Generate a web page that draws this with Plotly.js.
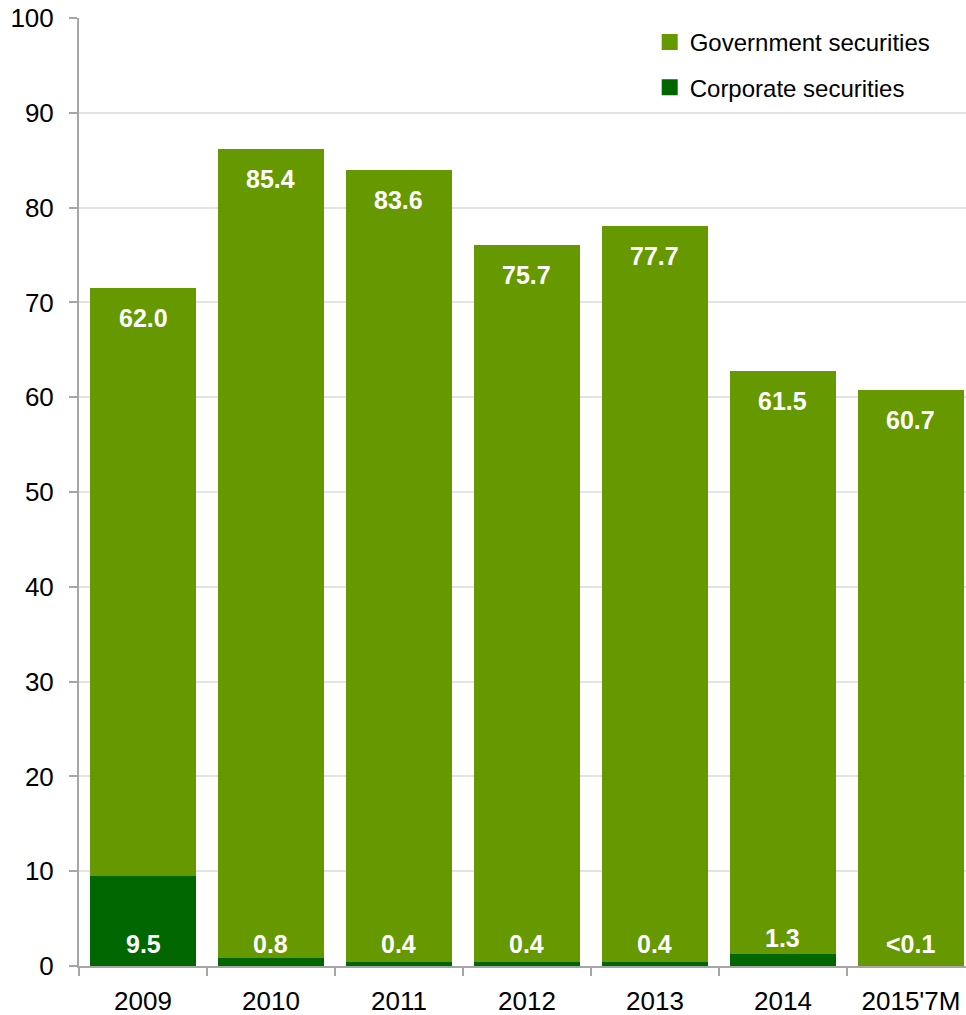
<!DOCTYPE html>
<html>
<head>
<meta charset="utf-8">
<script src="https://cdn.plot.ly/plotly-3.0.1.min.js"></script>
<style>html,body{margin:0;padding:0;background:#fff;}#chart{width:966px;height:1015px;}</style>
</head>
<body>
<div id="chart"></div>
<script>
const categories = ["2009", "2010", "2011", "2012", "2013", "2014", "2015'7M"];
const governmentValues = [62.0, 85.4, 83.6, 75.7, 77.7, 61.5, 60.7];
const corporateValues = [9.5, 0.8, 0.4, 0.4, 0.4, 1.3, 0.05];
const corporateLabels = ["9.5", "0.8", "0.4", "0.4", "0.4", "1.3", "<0.1"];
const yTicks = [0, 10, 20, 30, 40, 50, 60, 70, 80, 90, 100];

const GOV = '#669900';
const CORP = '#006600';
const FONT = 'Liberation Sans, Arial, sans-serif';

const traces = [
  {
    type: 'bar', name: 'Corporate securities', x: categories, y: corporateValues,
    marker: {color: CORP, line: {width: 0}}, showlegend: false, hoverinfo: 'none'
  },
  {
    type: 'bar', name: 'Government securities', x: categories, y: governmentValues,
    marker: {color: GOV, line: {width: 0}}, showlegend: false, hoverinfo: 'none'
  },
  // legend entries with larger square swatches
  {
    type: 'scatter', mode: 'markers', name: 'Government securities', x: [null], y: [null],
    marker: {symbol: 'square', size: 16, color: GOV, line: {width: 0}}, legendgroup: 'g', hoverinfo: 'none'
  },
  {
    type: 'scatter', mode: 'markers', name: 'Corporate securities', x: [null], y: [null],
    marker: {symbol: 'square', size: 16, color: CORP, line: {width: 0}}, legendgroup: 'c', hoverinfo: 'none'
  }
];

const annotations = [];
categories.forEach((c, i) => {
  const total = governmentValues[i] + corporateValues[i];
  annotations.push({
    x: i, y: total, xref: 'x', yref: 'y', yanchor: 'top', yshift: -14,
    text: '<b>' + governmentValues[i].toFixed(1) + '</b>', showarrow: false,
    font: {family: FONT, size: 25, color: '#ffffff'}
  });
  const cv = corporateValues[i];
  const above = cv > 1 && cv < 3;
  annotations.push({
    x: i, y: above ? cv : 0, xref: 'x', yref: 'y', yanchor: 'bottom', yshift: above ? 0 : 6,
    text: '<b>' + corporateLabels[i] + '</b>', showarrow: false,
    font: {family: FONT, size: 25, color: '#ffffff'}
  });
});

const layout = {
  width: 966, height: 1015,
  margin: {l: 79, r: 0, t: 18, b: 49, pad: 0},
  paper_bgcolor: '#ffffff', plot_bgcolor: '#ffffff',
  barmode: 'stack', bargap: 0.167,
  font: {family: FONT, size: 24, color: '#000000'},
  showlegend: true,
  legend: {
    x: 0.6434, y: 0.998, xanchor: 'left', yanchor: 'top',
    traceorder: 'grouped', tracegroupgap: 11,
    bgcolor: 'rgba(0,0,0,0)', font: {family: FONT, size: 24, color: '#000'}
  },
  xaxis: {
    type: 'category', range: [-0.5, 6.43], fixedrange: true,
    showline: true, linecolor: '#a6a6a6', linewidth: 2,
    ticks: 'outside', tickson: 'boundaries', ticklen: 8, tickcolor: '#a6a6a6', tickwidth: 2,
    showgrid: false, tickfont: {family: FONT, size: 26, color: '#000'}, ticklabelstandoff: 11
  },
  yaxis: {
    range: [0, 100], tickvals: yTicks, ticktext: yTicks.map(String), fixedrange: true,
    showline: true, linecolor: '#a6a6a6', linewidth: 2,
    ticks: 'outside', ticklen: 8, tickcolor: '#a6a6a6', tickwidth: 2,
    showgrid: true, gridcolor: '#e3e3e3', gridwidth: 2, zeroline: false,
    tickfont: {family: FONT, size: 26, color: '#000'}, ticklabelstandoff: 10
  },
  annotations: annotations
};

Plotly.newPlot('chart', traces, layout, {displayModeBar: false, staticPlot: true});
</script>
</body>
</html>
